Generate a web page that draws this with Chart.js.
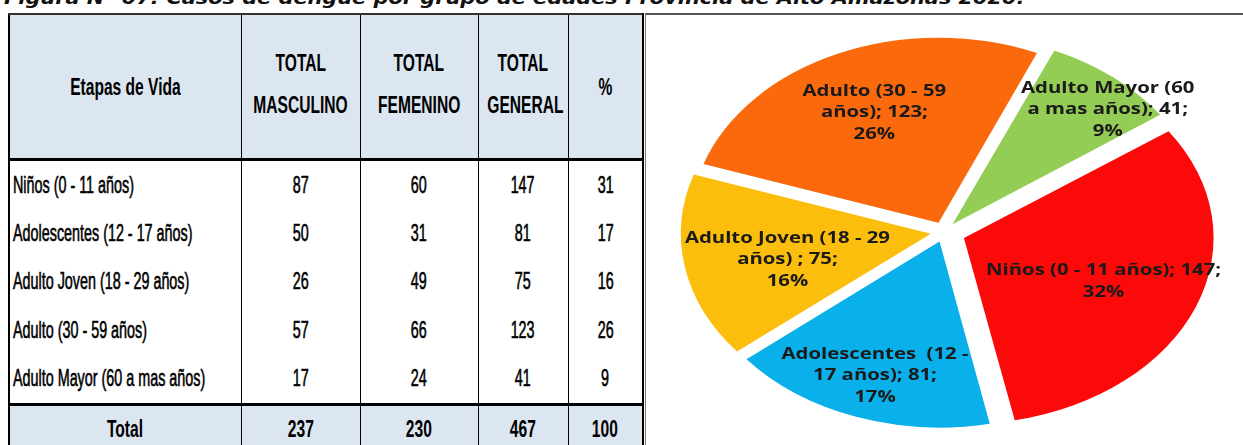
<!DOCTYPE html>
<html>
<head>
<meta charset="utf-8">
<script src="https://cdn.jsdelivr.net/npm/chart.js@4.4.1/dist/chart.umd.min.js"></script>
<style>
  body { margin: 0; width: 1243px; height: 445px; overflow: hidden; background: #fff; position: relative; }
  #title {
    position: absolute; left: 4px; top: -11px; white-space: nowrap;
    font: italic bold 18px "DejaVu Sans", sans-serif; line-height: 18px; color: #111;
    transform-origin: left top;
  }
  #tabla {
    position: absolute; left: 8px; top: 13px; width: 634px;
    border-collapse: collapse; table-layout: fixed;
    font-family: "Liberation Sans", Arial, sans-serif; color: #000;
    border-top: 2px solid #333; border-left: 2px solid #000; border-right: 2px solid #000;
  }
  #tabla td { border-left: 1.5px solid #000; border-right: 1.5px solid #000; padding: 0; text-align: center; vertical-align: middle; overflow: visible; white-space: nowrap; }
  #tabla tr.head td { background: #dce6f1; height: 143px; border-bottom: 3px solid #000; font-weight: bold; font-size: 19px; line-height: 42px; }
  #tabla tr.head td.dos { padding-bottom: 5px; height: 138px; }
  #tabla tr.fila td { height: 48.4px; font-size: 17.5px; -webkit-text-stroke: 0.45px #000; }
  #tabla tr.total td { background: #dce6f1; height: 46px; border-top: 3px solid #000; font-weight: bold; font-size: 19px; }
  #tabla td.izq { text-align: left; padding-left: 3px; }
  .t { display: inline-block; transform: scale(0.82, 1.4); transform-origin: center center; }
  .izq .t { transform-origin: left center; }
  .head .t, .total .t { transform: scale(0.82, 1.3); }
  #panel {
    position: absolute; left: 645px; top: 13px; width: 598px; height: 432px;
    border-top: 2px solid #555; border-left: 1.5px solid #777;
  }
  #pie { position: absolute; left: 0; top: 0; }
</style>
</head>
<body>
<div id="title">Figura N° 07: Casos de dengue por grupo de edades Provincia de Alto Amazonas 2020.</div>

<table id="tabla">
  <colgroup><col style="width:232px"><col style="width:119px"><col style="width:118px"><col style="width:90px"><col style="width:75px"></colgroup>
  <tbody id="cuerpo"></tbody>
</table>

<div id="panel"><canvas id="pie" width="596" height="430"></canvas></div>

<script>
// Casos de dengue por etapa de vida, Alto Amazonas 2020
const etapas = ['Niños (0 - 11 años)', 'Adolescentes  (12 - 17 años)', 'Adulto Joven (18 - 29 años)', 'Adulto (30 - 59 años)', 'Adulto Mayor (60 a mas años)'];
const masculino = [87, 50, 26, 57, 17];
const femenino = [60, 31, 49, 66, 24];
const general = [147, 81, 75, 123, 41];
const porcentaje = [31, 17, 16, 26, 9];
const totales = [237, 230, 467, 100];
const encabezados = ['Etapas de Vida', 'TOTAL<br>MASCULINO', 'TOTAL<br>FEMENINO', 'TOTAL<br>GENERAL', '%'];

// etiquetas del pie, partidas en lineas como en el original
const etiquetasPie = [
  ['Niños (0 - 11 años)'],
  ['Adolescentes  (12 -', '17 años)'],
  ['Adulto Joven (18 - 29', 'años) '],
  ['Adulto (30 - 59', 'años)'],
  ['Adulto Mayor (60', 'a mas años)']
];
// porcentajes tal como salen en el grafico
const porcentajePie = [32, 17, 16, 26, 9];
const colores = ['#fc0a0a', '#0ab0ea', '#fbbe0c', '#fa690b', '#93cd55'];

// tabla
const span = (s) => '<span class="t">' + s + '</span>';
let html = '<tr class="head">' + encabezados.map(h => '<td' + (h.includes('<br>') ? ' class="dos"' : '') + '>' + h.split('<br>').map(span).join('<br>') + '</td>').join('') + '</tr>';
for (let i = 0; i < etapas.length; i++) {
  html += '<tr class="fila"><td class="izq">' + span(etapas[i]) + '</td>' +
    [masculino[i], femenino[i], general[i], porcentaje[i]].map(v => '<td>' + span(v) + '</td>').join('') + '</tr>';
}
html += '<tr class="total"><td>' + span('Total') + '</td>' + totales.map(v => '<td>' + span(v) + '</td>').join('') + '</tr>';
document.getElementById('cuerpo').innerHTML = html;

// titulo ajustado al ancho
const titulo = document.getElementById('title');
titulo.style.transform = 'scaleX(' + (1020 / titulo.offsetWidth) + ')';

// el pie del original esta estirado en horizontal
const SX = 1.34;
// posicion de cada etiqueta: fraccion del radio y giro en grados
const posEtiqueta = [[0.61, 0.8], [0.77, 0.2], [0.595, -3], [0.65, 0.5], [0.88, 5.8]];
const desplazamiento = [64, 40, 40, 40, 40];

const elipse = {
  id: 'elipse',
  beforeDatasetsDraw(chart) {
    const a = chart.getDatasetMeta(0).data[0];
    const c = chart.ctx;
    c.save();
    c.translate(a.x, a.y);
    c.scale(SX, 1);
    c.translate(-a.x, -a.y);
  },
  afterDatasetsDraw(chart) {
    const c = chart.ctx;
    c.restore();
    const arcs = chart.getDatasetMeta(0).data;
    c.save();
    c.font = 'bold 16px "Open Sans", sans-serif';
    c.fillStyle = '#1a1a1a';
    c.textAlign = 'center';
    c.textBaseline = 'middle';
    arcs.forEach((arc, i) => {
      const mid = (arc.startAngle + arc.endAngle) / 2 + posEtiqueta[i][1] * Math.PI / 180;
      const r = arc.outerRadius * posEtiqueta[i][0] + desplazamiento[i] / 4;
      const x = arc.x + Math.cos(mid) * r * SX;
      const y = arc.y + Math.sin(mid) * r;
      const lineas = etiquetasPie[i].slice();
      lineas[lineas.length - 1] += '; ' + general[i] + ';';
      lineas.push(porcentajePie[i] + '%');
      const lh = 21.5;
      lineas.forEach((t, k) => {
        c.save();
        c.translate(x, y + (k - (lineas.length - 1) / 2) * lh);
        c.scale(1.27, 1);
        c.fillText(t, 0, 0);
        c.restore();
      });
    });
    c.restore();
  }
};

new Chart(document.getElementById('pie').getContext('2d'), {
  type: 'pie',
  data: {
    labels: etapas,
    datasets: [{
      data: general,
      backgroundColor: colores,
      borderWidth: 0,
      offset: desplazamiento,
      clip: false
    }]
  },
  options: {
    responsive: false,
    animation: false,
    events: [],
    rotation: 55,
    radius: 185,
    layout: { padding: { top: 4 } },
    plugins: {
      legend: { display: false },
      tooltip: { enabled: false }
    }
  },
  plugins: [elipse]
});
</script>
</body>
</html>
